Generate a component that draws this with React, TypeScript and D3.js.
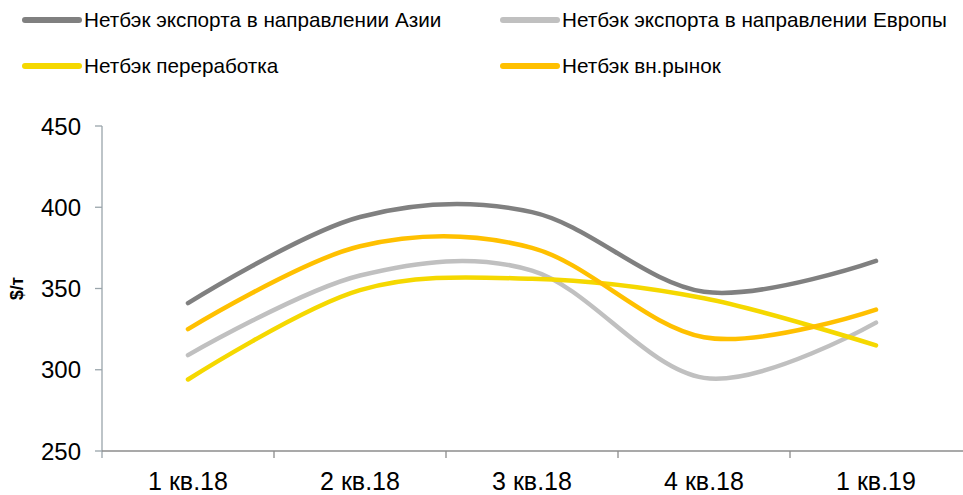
import React, { useEffect, useRef } from 'react';
import * as d3 from 'd3';

// кварталы
const categories = ['1 кв.18', '2 кв.18', '3 кв.18', '4 кв.18', '1 кв.19'];
// серии, $/т
const asia = [341, 394, 397, 348, 367];
const europe = [309, 358, 361, 295, 329];
const processing = [294, 349, 356, 344, 315];
const domestic = [325, 376, 375, 320, 337];
const yTicks = [250, 300, 350, 400, 450];

const seriesNames = [
  'Нетбэк экспорта в направлении Азии',
  'Нетбэк экспорта в направлении Европы',
  'Нетбэк переработка',
  'Нетбэк вн.рынок',
];
const colors = ['#808080', '#c0c0c0', '#f5d800', '#ffc000'];

const App = () => {
  const ref = useRef<SVGSVGElement>(null);

  useEffect(() => {
    const svg = d3.select(ref.current);
    svg.selectAll('*').remove();

    const left = 102;
    const right = 962;
    const top = 126;
    const bottom = 451;
    const font = 'Liberation Sans, Arial, sans-serif';

    const x = d3.scaleBand().domain(categories).range([left, right]);
    const y = d3.scaleLinear().domain([250, 450]).range([bottom, top]);

    // ось Y
    svg.append('line')
      .attr('x1', left).attr('x2', left)
      .attr('y1', top).attr('y2', bottom + 7)
      .attr('stroke', '#9aa5ab').attr('stroke-width', 1.3);
    yTicks.forEach(t => {
      svg.append('line')
        .attr('x1', left - 7).attr('x2', left)
        .attr('y1', y(t)).attr('y2', y(t))
        .attr('stroke', '#9aa5ab').attr('stroke-width', 1.3);
      svg.append('text')
        .attr('x', 81).attr('y', y(t))
        .attr('dy', '0.36em')
        .attr('text-anchor', 'end')
        .attr('font-family', font).attr('font-size', 24)
        .attr('fill', '#000')
        .text(t);
    });

    svg.append('text')
      .attr('transform', `translate(23,${y(350)}) rotate(-90)`)
      .attr('text-anchor', 'middle')
      .attr('font-family', font).attr('font-size', 17.5).attr('font-weight', 'bold')
      .text('$/т');

    // ось X
    svg.append('line')
      .attr('x1', left).attr('x2', 963)
      .attr('y1', bottom).attr('y2', bottom)
      .attr('stroke', '#8c8c8c').attr('stroke-width', 1.5);
    categories.forEach((c, i) => {
      if (i > 0) {
        svg.append('line')
          .attr('x1', x(c)!).attr('x2', x(c)!)
          .attr('y1', bottom).attr('y2', bottom + 7)
          .attr('stroke', '#8c8c8c').attr('stroke-width', 1.3);
      }
      svg.append('text')
        .attr('x', x(c)! + x.bandwidth() / 2).attr('y', 490)
        .attr('text-anchor', 'middle')
        .attr('font-family', font).attr('font-size', 25)
        .text(c);
    });

    // линии
    const line = d3.line<number>()
      .x((d, i) => x(categories[i])! + x.bandwidth() / 2)
      .y(d => y(d))
      .curve(d3.curveCardinal.tension(0));

    const all = [asia, europe, processing, domestic];
    const order = [1, 2, 0, 3];
    order.forEach(k => {
      svg.append('path')
        .attr('d', line(all[k]))
        .attr('fill', 'none')
        .attr('stroke', colors[k])
        .attr('stroke-width', 4.5)
        .attr('stroke-linecap', 'round');
    });

    // легенда
    const legendPos = [
      { x: 25, y: 20 },
      { x: 503, y: 20 },
      { x: 25, y: 66 },
      { x: 503, y: 66 },
    ];
    seriesNames.forEach((name, i) => {
      const p = legendPos[i];
      svg.append('line')
        .attr('x1', p.x).attr('x2', p.x + 54)
        .attr('y1', p.y).attr('y2', p.y)
        .attr('stroke', colors[i]).attr('stroke-width', 6)
        .attr('stroke-linecap', 'round');
      svg.append('text')
        .attr('x', p.x + 59).attr('y', p.y)
        .attr('dy', '0.36em')
        .attr('font-family', font).attr('font-size', 20.7)
        .text(name);
    });
  }, []);

  return (
    <svg
      ref={ref}
      width={963}
      height={495}
      style={{ position: 'absolute', left: 0, top: 0, background: '#fff' }}
    />
  );
};

export default App;
